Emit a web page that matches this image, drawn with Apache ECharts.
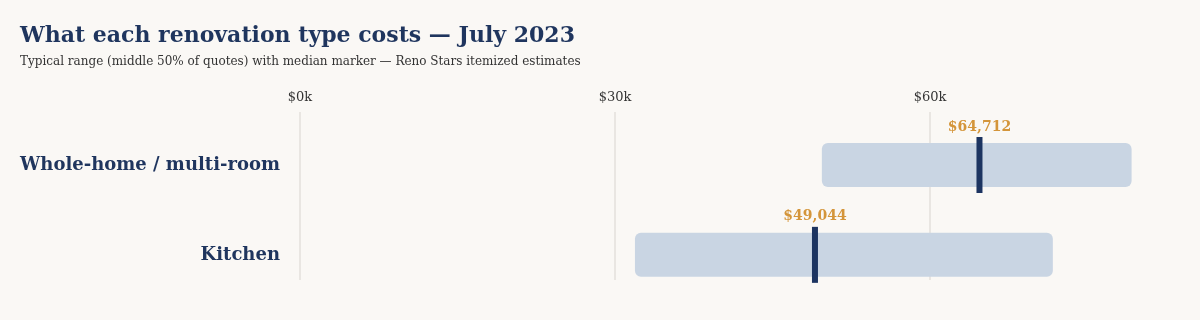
<!DOCTYPE html>
<html><head><meta charset="utf-8">
<script src="https://cdn.jsdelivr.net/npm/echarts@6/dist/echarts.min.js"></script>
<style>html,body{margin:0;padding:0;background:#faf8f5;}#c{width:1200px;height:320px;}</style>
</head><body><div id="c"></div>
<script>
const categories = ['Whole-home / multi-room', 'Kitchen'];
const rangeLow = [49700, 31900];
const rangeHigh = [79200, 71700];
const medians = [64712, 49044];
const xTickValues = [0, 30000, 60000];

const FONT = '"DejaVu Serif", "Liberation Serif", serif';
const NAVY = '#1f355e';
const GOLD = '#d4953a';

const chart = echarts.init(document.getElementById('c'), null, {renderer: 'canvas'});
const rangeData = categories.map((c, i) => [rangeLow[i], rangeHigh[i], i]);
const medData = categories.map((c, i) => [medians[i], i]);

chart.setOption({
  backgroundColor: '#faf8f5',
  animation: false,
  title: {
    text: 'What each renovation type costs — July 2023',
    subtext: 'Typical range (middle 50% of quotes) with median marker — Reno Stars itemized estimates',
    left: 15, top: 20, itemGap: 9,
    textStyle: {fontFamily: FONT, fontWeight: 'bold', fontSize: 22, color: NAVY},
    subtextStyle: {fontFamily: FONT, fontSize: 12, color: '#333'}
  },
  grid: {left: 300, width: 945, top: 112, bottom: 40, containLabel: false, outerBoundsMode: 'none'},
  xAxis: {
    type: 'value', position: 'top', min: 0, max: 90000, interval: 30000,
    axisLine: {show: false}, axisTick: {show: false},
    axisLabel: {fontFamily: FONT, fontSize: 13, color: '#333', margin: 8,
      formatter: v => xTickValues.indexOf(v) >= 0 ? '$' + (v / 1000) + 'k' : ''},
    splitLine: {show: true, lineStyle: {color: '#e3e0db', width: 1.5}}
  },
  yAxis: {
    type: 'value', inverse: true, min: -0.59, max: 1.28,
    axisLine: {show: false}, axisTick: {show: false}, splitLine: {show: false},
    axisLabel: {show: false}
  },
  series: [
    {
      type: 'custom', data: rangeData, z: 2,
      renderItem: (params, api) => {
        const p1 = api.coord([api.value(0), api.value(2)]);
        const p2 = api.coord([api.value(1), api.value(2)]);
        return {type: 'group', children: [
          {type: 'rect', shape: {x: p1[0], y: p1[1] - 22, width: p2[0] - p1[0], height: 44, r: 6},
            style: {fill: '#c9d5e3'}},
          {type: 'text', x: 280, y: p1[1],
            style: {text: categories[api.value(2)], align: 'right', verticalAlign: 'middle',
              font: 'bold 18px ' + FONT, fill: NAVY}}
        ]};
      }
    },
    {
      type: 'custom', data: medData, z: 3,
      renderItem: (params, api) => {
        const p = api.coord([api.value(0), api.value(1)]);
        return {type: 'group', children: [
          {type: 'rect', shape: {x: p[0] - 3, y: p[1] - 28, width: 6, height: 56},
            style: {fill: '#1c3461'}},
          {type: 'text', x: p[0], y: p[1] - 31,
            style: {text: '$' + api.value(0).toLocaleString('en-US'), align: 'center', verticalAlign: 'bottom',
              font: 'bold 14px ' + FONT, fill: GOLD}}
        ]};
      }
    }
  ]
});
</script></body></html>
